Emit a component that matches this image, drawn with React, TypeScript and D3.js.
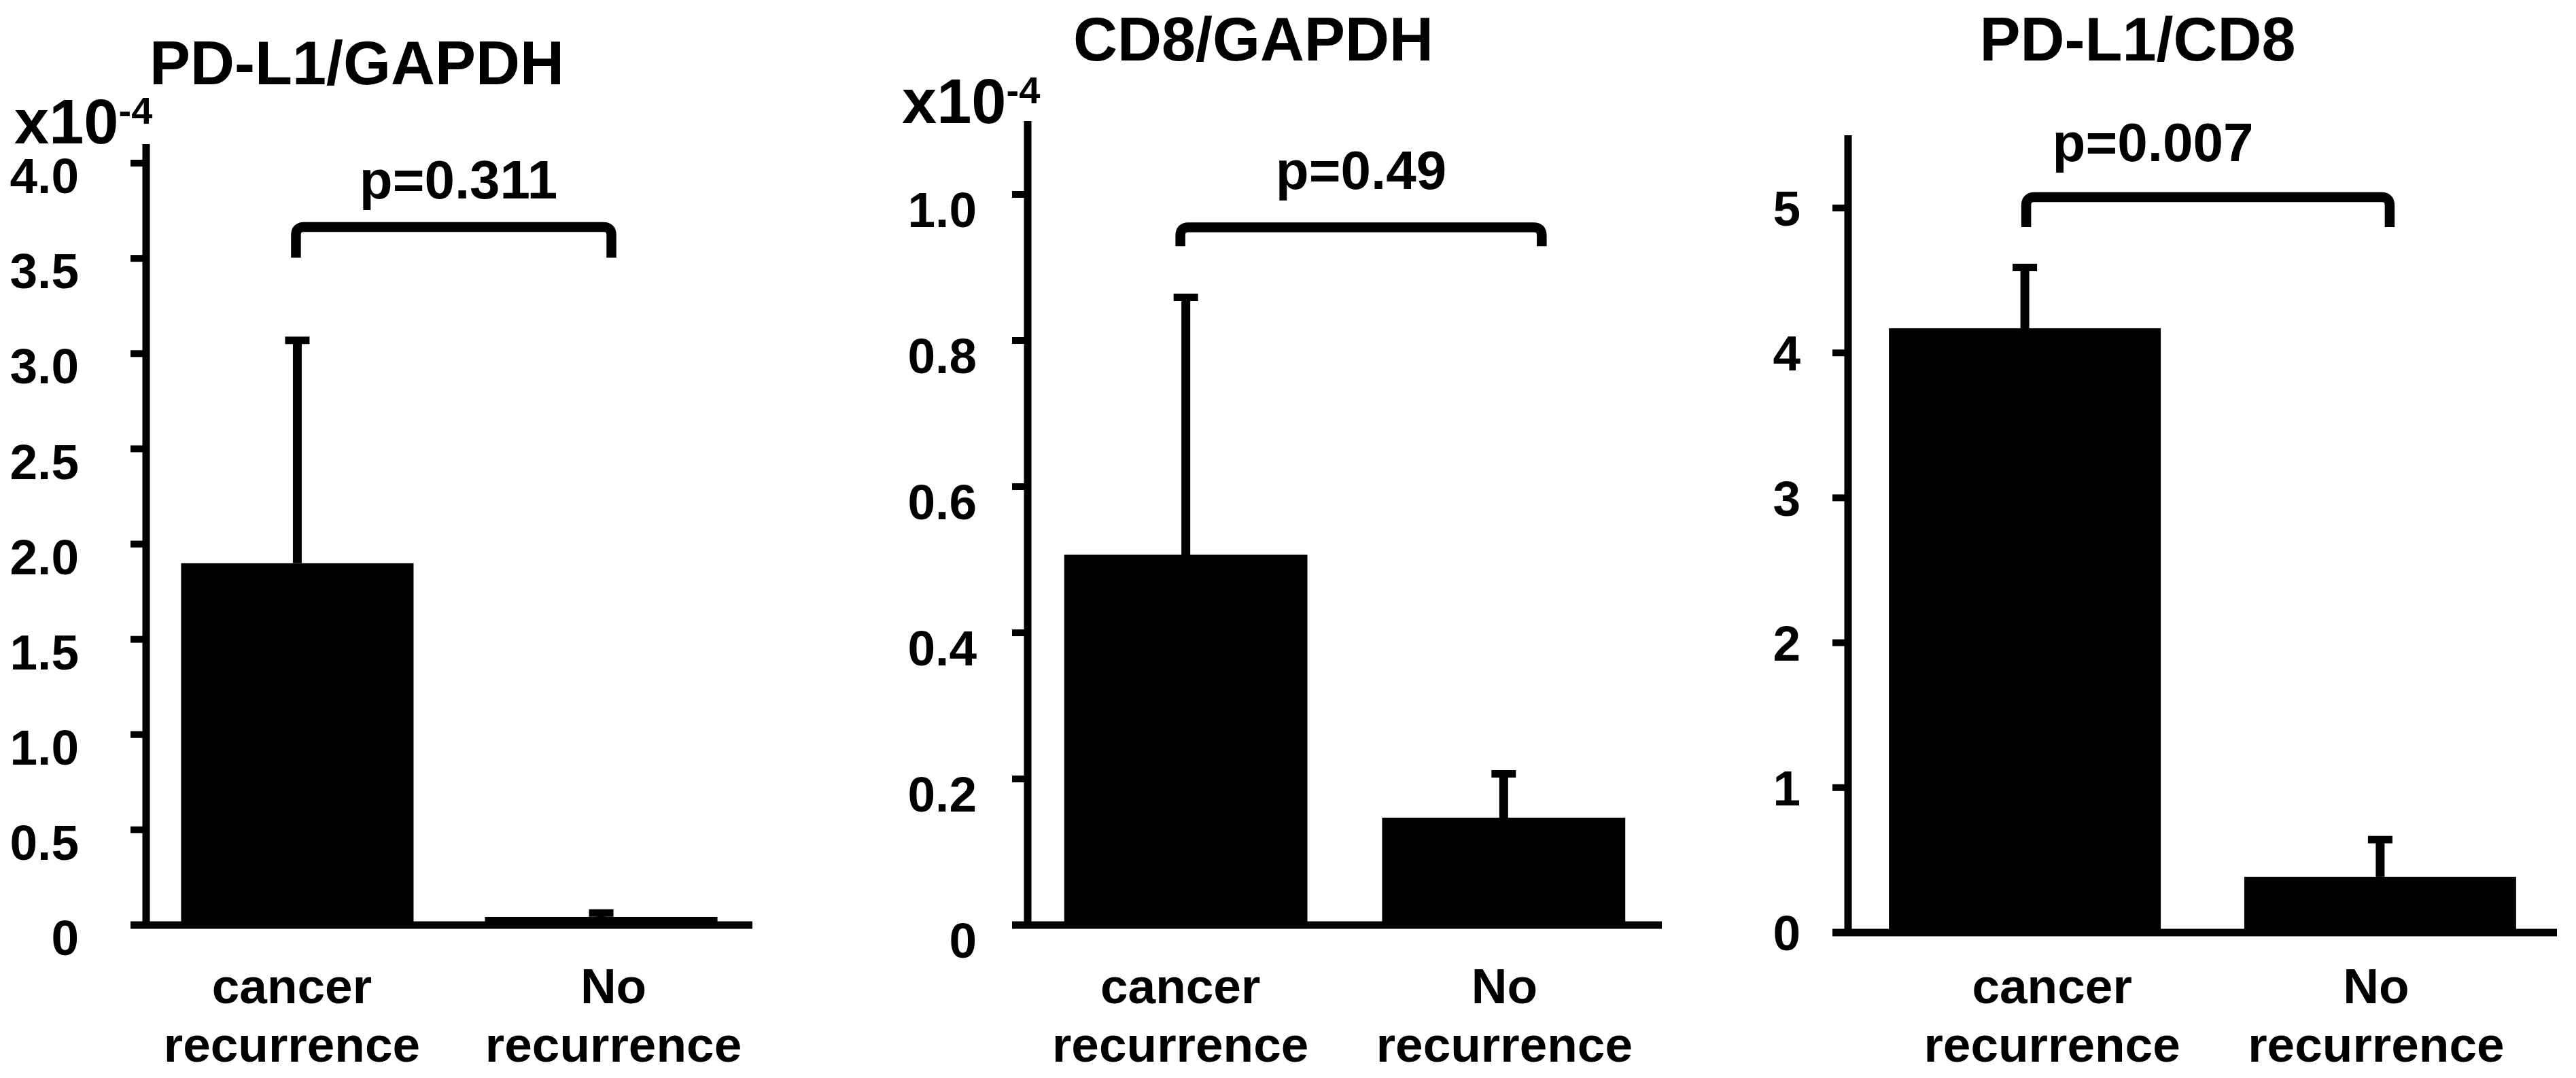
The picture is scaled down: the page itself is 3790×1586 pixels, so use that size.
import * as d3 from "d3";

// ---- data ----
const groups = ["cancer recurrence", "No recurrence"];
const groupLines = [
  ["cancer", "recurrence"],
  ["No", "recurrence"],
];

const pdl1GapdhMean = [1.9, 0.043];
const pdl1GapdhSd = [1.17, 0.02];
const pdl1GapdhTicks = [0, 0.5, 1, 1.5, 2, 2.5, 3, 3.5, 4];

const cd8GapdhMean = [0.507, 0.147];
const cd8GapdhSd = [0.352, 0.06];
const cd8GapdhTicks = [0, 0.2, 0.4, 0.6, 0.8, 1.0];

const pdl1Cd8Mean = [4.17, 0.385];
const pdl1Cd8Sd = [0.42, 0.257];
const pdl1Cd8Ticks = [0, 1, 2, 3, 4, 5];

const titles = ["PD-L1/GAPDH", "CD8/GAPDH", "PD-L1/CD8"];
const pLabels = ["p=0.311", "p=0.49", "p=0.007"];

const FONT = "'Liberation Sans', Arial, Helvetica, sans-serif";
const W = 3790;
const H = 1586;

interface PanelProps {
  title: string;
  pLabel: string;
  mean: number[];
  sd: number[];
  ticks: number[];
  fmt: (d: number) => string;
  // layout
  left: number;
  right: number;
  yZero: number;
  yMaxTick: number;
  axisTop: number;
  tickLabelGap: number;
  tickLabelDy: number;
  titleX: number;
  titleY: number;
  expX?: number;
  expY?: number;
  bracketTop: number; // data units
  bracketFoot: number; // data units
  bracketOffsets: [number, number];
  pDx: number;
  pY: number;
  labelOffsets: [number, number];
}

function Panel(p: PanelProps) {
  const maxTick = p.ticks[p.ticks.length - 1];
  const x = d3
    .scaleBand<string>()
    .domain(groups)
    .range([p.left, p.right])
    .paddingInner(0.235)
    .paddingOuter(0.115);
  const y = d3.scaleLinear().domain([0, maxTick]).range([p.yZero, p.yMaxTick]);
  const bw = x.bandwidth();
  const cx = (g: string) => (x(g) ?? 0) + bw / 2;

  const xl = cx(groups[0]) + p.bracketOffsets[0];
  const xr = cx(groups[1]) + p.bracketOffsets[1];
  const yTop = y(p.bracketTop);
  const yFoot = y(p.bracketFoot);
  const r = 12;
  const br = d3.path();
  br.moveTo(xl, yFoot);
  br.lineTo(xl, yTop + r);
  br.quadraticCurveTo(xl, yTop, xl + r, yTop);
  br.lineTo(xr - r, yTop);
  br.quadraticCurveTo(xr, yTop, xr, yTop + r);
  br.lineTo(xr, yFoot);

  const tickLen = 23;
  const stroke = 11;
  const tickFont = 73;

  return (
    <g fontFamily={FONT} fontWeight="bold" fill="#000">
      {/* Title */}
      <text x={p.titleX} y={p.titleY} fontSize={90} textAnchor="middle">
        {p.title}
      </text>
      {/* Exponent label */}
      {p.expX !== undefined && (
        <text x={p.expX} y={p.expY} fontSize={92}>
          x10
          <tspan fontSize={56} dy={-29}>
            -4
          </tspan>
        </text>
      )}
      {/* Bars */}
      {groups.map((g, i) => (
        <rect
          key={g}
          x={x(g)}
          y={y(p.mean[i])}
          width={bw}
          height={p.yZero - y(p.mean[i])}
          fill="#000"
        />
      ))}
      {/* Error bars (upper only) */}
      {groups.map((g, i) => {
        const top = y(p.mean[i] + p.sd[i]);
        return (
          <g key={g + "-err"}>
            <line
              x1={cx(g)}
              x2={cx(g)}
              y1={y(p.mean[i])}
              y2={top}
              stroke="#000"
              strokeWidth={13}
            />
            <line
              x1={cx(g) - 18}
              x2={cx(g) + 18}
              y1={top}
              y2={top}
              stroke="#000"
              strokeWidth={11}
            />
          </g>
        );
      })}
      {/* Y axis */}
      <line
        x1={p.left}
        x2={p.left}
        y1={p.axisTop}
        y2={p.yZero}
        stroke="#000"
        strokeWidth={stroke}
      />
      {p.ticks.map((t) => (
        <g key={t}>
          <line
            x1={p.left - tickLen}
            x2={p.left}
            y1={y(t)}
            y2={y(t)}
            stroke="#000"
            strokeWidth={10}
          />
          <text
            x={p.left - p.tickLabelGap}
            y={y(t) + p.tickLabelDy + tickFont * 0.358}
            fontSize={tickFont}
            textAnchor="end"
          >
            {p.fmt(t)}
          </text>
        </g>
      ))}
      {/* Baseline */}
      <line
        x1={p.left - tickLen}
        x2={p.right}
        y1={p.yZero}
        y2={p.yZero}
        stroke="#000"
        strokeWidth={stroke}
      />
      {/* Category labels */}
      {groups.map((g, i) =>
        groupLines[i].map((ln, j) => (
          <text
            key={g + j}
            x={cx(g) + p.labelOffsets[i]}
            y={1476 + j * 86}
            fontSize={73}
            textAnchor="middle"
          >
            {ln}
          </text>
        ))
      )}
      {/* Significance bracket */}
      <path d={br.toString()} fill="none" stroke="#000" strokeWidth={14.5} />
      <text
        x={(xl + xr) / 2 + p.pDx}
        y={p.pY}
        fontSize={80}
        textAnchor="middle"
      >
        {p.pLabel}
      </text>
    </g>
  );
}

const fmtHalf = (d: number) => (d === 0 ? "0" : d3.format(".1f")(d));
const fmtInt = (d: number) => d3.format("d")(d);

export default function App() {
  return (
    <svg
      width={W}
      height={H}
      viewBox={`0 0 ${W} ${H}`}
      style={{ position: "absolute", left: 0, top: 0, background: "#fff" }}
    >
      <rect width={W} height={H} fill="#fff" />
      <Panel
        title={titles[0]}
        pLabel={pLabels[0]}
        mean={pdl1GapdhMean}
        sd={pdl1GapdhSd}
        ticks={pdl1GapdhTicks}
        fmt={fmtHalf}
        left={215}
        right={1107}
        yZero={1361}
        yMaxTick={240}
        axisTop={212}
        tickLabelGap={99}
        tickLabelDy={18}
        titleX={525}
        titleY={124}
        expX={21}
        expY={211}
        bracketTop={3.665}
        bracketFoot={3.504}
        bracketOffsets={[-2, 15]}
        pDx={7}
        pY={292}
        labelOffsets={[-8, 18]}
      />
      <Panel
        title={titles[1]}
        pLabel={pLabels[1]}
        mean={cd8GapdhMean}
        sd={cd8GapdhSd}
        ticks={cd8GapdhTicks}
        fmt={fmtHalf}
        left={1512}
        right={2445}
        yZero={1361}
        yMaxTick={286}
        axisTop={178}
        tickLabelGap={75}
        tickLabelDy={22}
        titleX={1844}
        titleY={89}
        expX={1327}
        expY={181}
        bracketTop={0.955}
        bracketFoot={0.929}
        bracketOffsets={[-8, 56]}
        pDx={0}
        pY={278}
        labelOffsets={[-8, 1]}
      />
      <Panel
        title={titles[2]}
        pLabel={pLabels[2]}
        mean={pdl1Cd8Mean}
        sd={pdl1Cd8Sd}
        ticks={pdl1Cd8Ticks}
        fmt={fmtInt}
        left={2719}
        right={3762}
        yZero={1372}
        yMaxTick={306}
        axisTop={199}
        tickLabelGap={70}
        tickLabelDy={0}
        titleX={3145}
        titleY={89}
        bracketTop={5.075}
        bracketFoot={4.869}
        bracketOffsets={[2, 14]}
        pDx={-81}
        pY={237}
        labelOffsets={[40, -6]}
      />
    </svg>
  );
}
